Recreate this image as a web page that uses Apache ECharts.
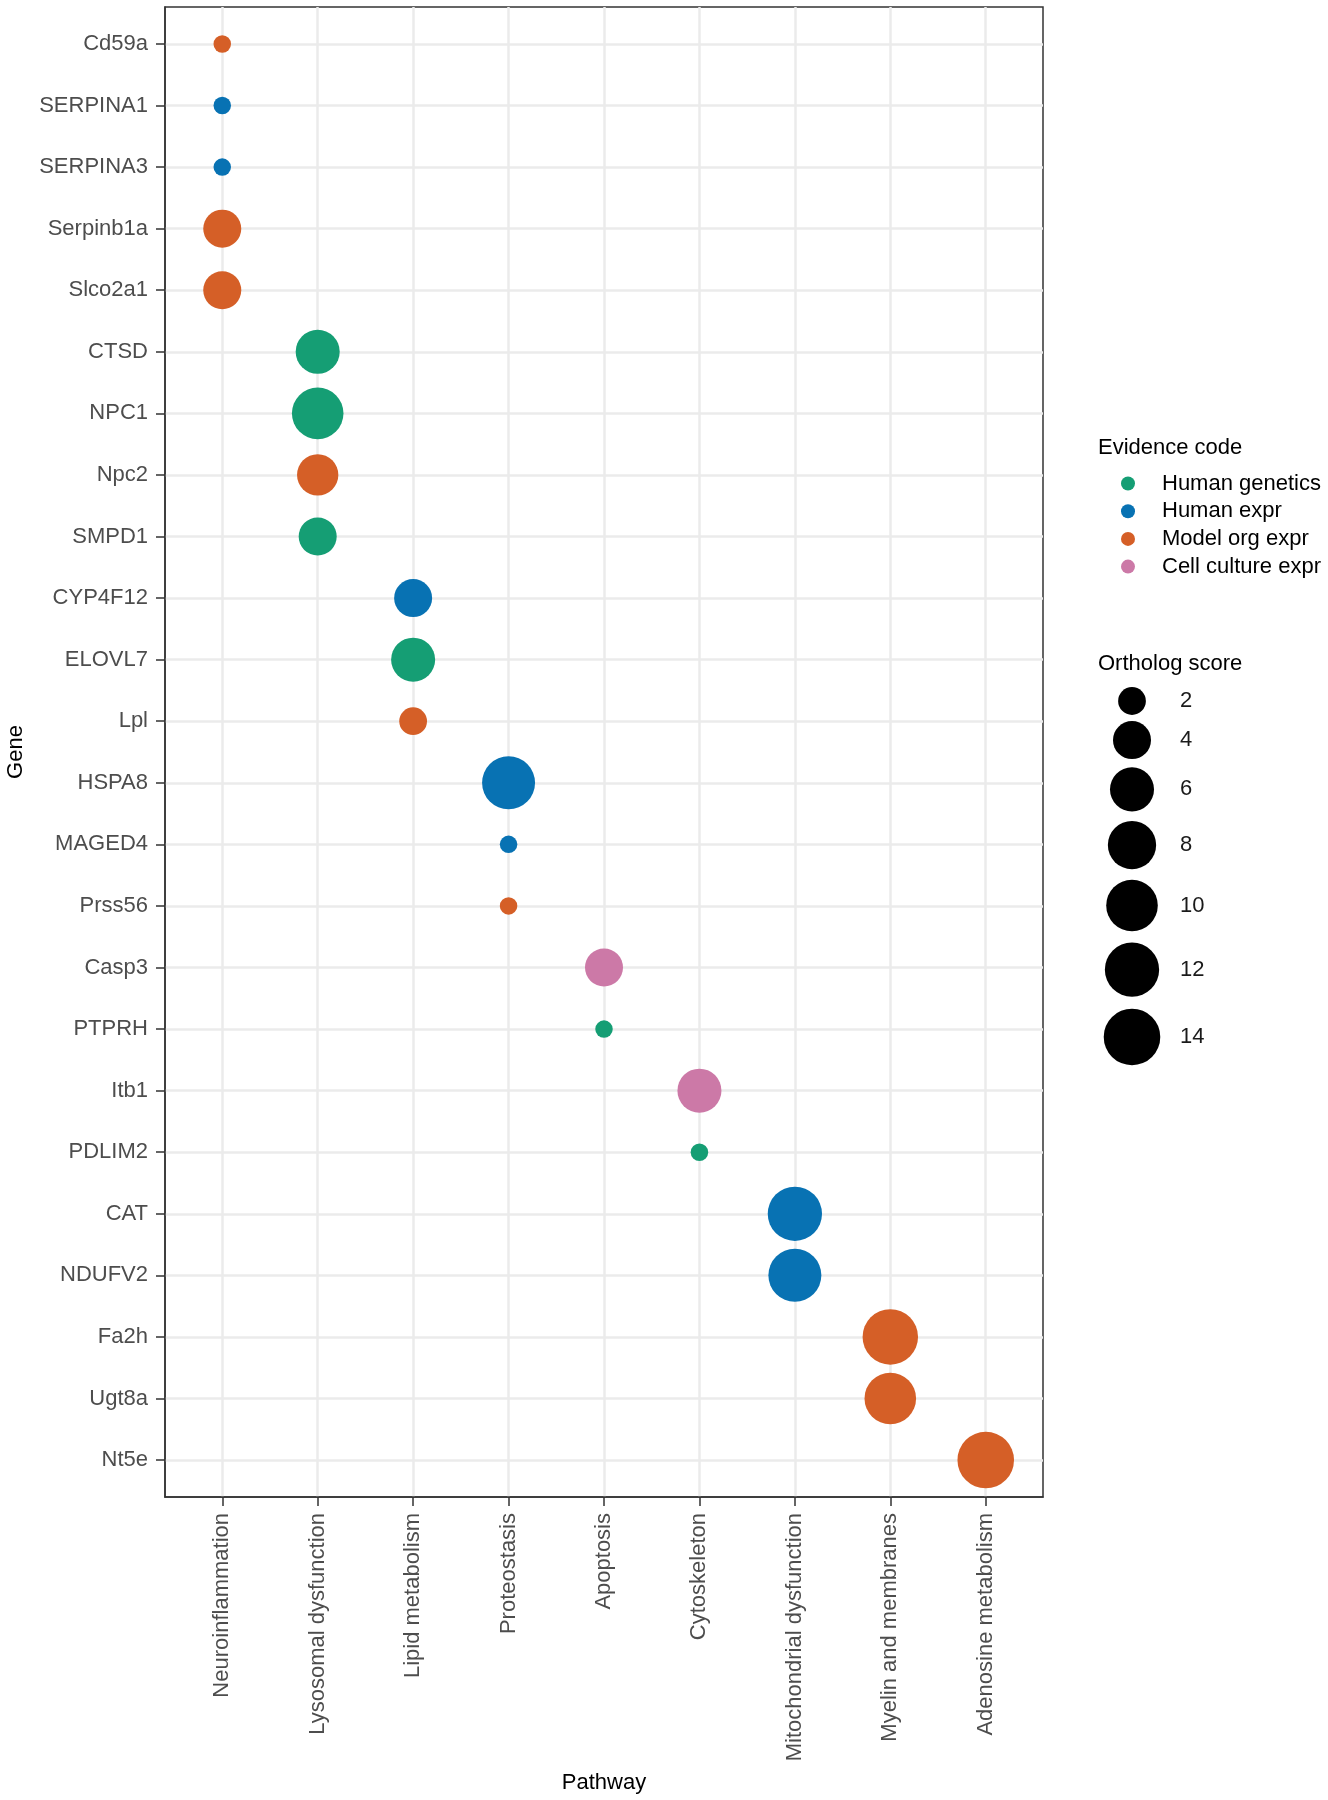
<!DOCTYPE html>
<html>
<head>
<meta charset="utf-8">
<script src="https://cdn.jsdelivr.net/npm/echarts@6/dist/echarts.min.js"></script>
<style>
  html, body { margin: 0; padding: 0; background: #fff; }
  #chart { width: 1328px; height: 1800px; }
</style>
</head>
<body>
<div id="chart"></div>
<script>
const pathways = ['Neuroinflammation', 'Lysosomal dysfunction', 'Lipid metabolism', 'Proteostasis',
  'Apoptosis', 'Cytoskeleton', 'Mitochondrial dysfunction', 'Myelin and membranes', 'Adenosine metabolism']

const genes = ['Cd59a', 'SERPINA1', 'SERPINA3', 'Serpinb1a', 'Slco2a1', 'CTSD', 'NPC1', 'Npc2', 'SMPD1',
  'CYP4F12', 'ELOVL7', 'Lpl', 'HSPA8', 'MAGED4', 'Prss56', 'Casp3', 'PTPRH', 'Itb1', 'PDLIM2',
  'CAT', 'NDUFV2', 'Fa2h', 'Ugt8a', 'Nt5e']

const genePathway = ['Neuroinflammation', 'Neuroinflammation', 'Neuroinflammation', 'Neuroinflammation', 'Neuroinflammation',
  'Lysosomal dysfunction', 'Lysosomal dysfunction', 'Lysosomal dysfunction', 'Lysosomal dysfunction',
  'Lipid metabolism', 'Lipid metabolism', 'Lipid metabolism',
  'Proteostasis', 'Proteostasis', 'Proteostasis',
  'Apoptosis', 'Apoptosis', 'Cytoskeleton', 'Cytoskeleton',
  'Mitochondrial dysfunction', 'Mitochondrial dysfunction',
  'Myelin and membranes', 'Myelin and membranes', 'Adenosine metabolism']

const geneEvidence = ['Model org expr', 'Human expr', 'Human expr', 'Model org expr', 'Model org expr',
  'Human genetics', 'Human genetics', 'Model org expr', 'Human genetics',
  'Human expr', 'Human genetics', 'Model org expr',
  'Human expr', 'Human expr', 'Model org expr',
  'Cell culture expr', 'Human genetics', 'Cell culture expr', 'Human genetics',
  'Human expr', 'Human expr', 'Model org expr', 'Model org expr', 'Model org expr']

const orthologScore = [1, 1, 1, 4, 4, 6, 10, 5, 4, 4, 6, 2, 11, 1, 1, 4, 1, 6, 1, 12, 11, 13, 10, 14]

const evidenceCodes = ['Human genetics', 'Human expr', 'Model org expr', 'Cell culture expr']
const sizeBreaks = [2, 4, 6, 8, 10, 12, 14]

// size scale: score -> symbol diameter (px)
const sizeOf = s => 17.5 + 14.8 * Math.log(s)

const FONT = "'Liberation Sans', Arial, Helvetica, sans-serif"
const palette = { 'Human genetics': '#159e74', 'Human expr': '#0872b3', 'Model org expr': '#d55f27', 'Cell culture expr': '#cc79a7' }

const chart = echarts.init(document.getElementById('chart'), null, { renderer: 'canvas' })

// stacked key heights for the size legend, like ggplot legend keys
const keyH = sizeBreaks.map(s => 1.25 * sizeOf(s) - 2)
const keyY = []
let acc = 0
keyH.forEach((h, i) => { keyY.push(acc + h / 2); acc += h })
const keyTotal = acc
const firstCenter = 701

const mainSeries = evidenceCodes.map(code => ({
  name: code,
  type: 'scatter',
  xAxisIndex: 0, yAxisIndex: 0,
  itemStyle: { color: palette[code], opacity: 1 },
  symbolSize: v => sizeOf(v[2]),
  data: genes.map((g, i) => geneEvidence[i] === code ? [pathways.indexOf(genePathway[i]), i, orthologScore[i]] : null)
    .filter(d => d)
}))

const sizeLegendSeries = {
  name: 'Ortholog score',
  type: 'scatter',
  xAxisIndex: 1, yAxisIndex: 1,
  silent: true,
  itemStyle: { color: '#000', opacity: 1 },
  data: sizeBreaks.map((s, i) => ({
    value: [0, keyY[i], s],
    symbolSize: sizeOf(s),
    label: { show: true, position: 'right', distance: 48 - sizeOf(s) / 2, formatter: String(s),
      color: '#1a1a1a', fontSize: 22, fontFamily: FONT }
  }))
}

const option = {
  animation: false,
  textStyle: { fontFamily: FONT },
  title: [
    { text: 'Evidence code', left: 1093, top: 432, textStyle: { fontSize: 22, fontWeight: 'normal', color: '#000', fontFamily: FONT } },
    { text: 'Ortholog score', left: 1093, top: 648, textStyle: { fontSize: 22, fontWeight: 'normal', color: '#000', fontFamily: FONT } }
  ],
  legend: {
    data: evidenceCodes,
    orient: 'vertical',
    left: 1116, top: 467.5,
    icon: 'circle',
    itemWidth: 14, itemHeight: 14, itemGap: 5.7,
    textStyle: { fontSize: 22, lineHeight: 22, color: '#000', fontFamily: FONT, padding: [0, 0, 0, 22] },
    selectedMode: false
  },
  grid: [
    { left: 165, right: 285, top: 7, bottom: 303, outerBoundsMode: 'none', containLabel: false,
      show: true, borderColor: '#333', borderWidth: 1.5, backgroundColor: '#fff' },
    { left: 1100, width: 64, top: firstCenter - keyY[0], height: keyTotal, outerBoundsMode: 'none' }
  ],
  xAxis: [{
    type: 'value', gridIndex: 0, min: -0.6, max: 8.6,
    name: 'Pathway', nameLocation: 'middle', nameGap: 275,
    nameTextStyle: { fontSize: 22, color: '#000', fontFamily: FONT },
    axisLine: { show: true, onZero: false, lineStyle: { color: '#333', width: 1.5 } },
    axisTick: { show: true, length: 9, customValues: pathways.map((p, i) => i), lineStyle: { color: '#333', width: 1.5 } },
    axisLabel: { customValues: pathways.map((p, i) => i), formatter: v => pathways[Math.round(v)],
      rotate: 90, margin: 16, fontSize: 22, color: '#4d4d4d', fontFamily: FONT },
    splitLine: { show: true, lineStyle: { color: '#ebebeb', width: 2.5 } }
  }, {
    type: 'value', gridIndex: 1, min: -1, max: 1, show: false
  }],
  yAxis: [{
    type: 'value', gridIndex: 0, inverse: true, min: -0.6, max: 23.6,
    name: 'Gene', nameLocation: 'middle', nameGap: 138,
    nameTextStyle: { fontSize: 22, color: '#000', fontFamily: FONT },
    axisLine: { show: true, onZero: false, lineStyle: { color: '#333', width: 1.5 } },
    axisTick: { show: true, length: 9, customValues: genes.map((g, i) => i), lineStyle: { color: '#333', width: 1.5 } },
    axisLabel: { customValues: genes.map((g, i) => i), formatter: v => genes[Math.round(v)],
      margin: 17, fontSize: 22, color: '#4d4d4d', fontFamily: FONT },
    splitLine: { show: true, lineStyle: { color: '#ebebeb', width: 2.5 } }
  }, {
    type: 'value', gridIndex: 1, inverse: true, min: 0, max: keyTotal, show: false
  }],
  series: [...mainSeries, sizeLegendSeries]
}

chart.setOption(option)
</script>
</body>
</html>
